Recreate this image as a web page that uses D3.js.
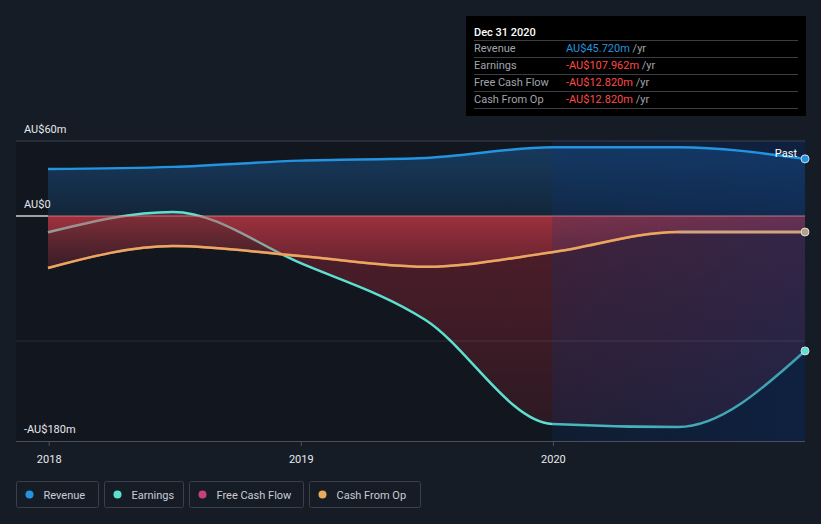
<!DOCTYPE html>
<html><head><meta charset="utf-8">
<script src="https://cdn.jsdelivr.net/npm/d3@7"></script>
<style>
html,body{margin:0;padding:0;background:#161c26;}
svg{display:block;font-family:Roboto,"Noto Sans",sans-serif;}
</style></head>
<body>
<svg id="c" width="821" height="524"></svg>
<script>
const dates = ["2017-12-31","2018-06-30","2018-12-31","2019-06-30","2019-12-31","2020-06-30","2020-12-31"];
const revenue = [37.6, 39.3, 44.3, 46.4, 55.0, 55.0, 45.72];
const earnings = [-13.0, 3.3, -37.5, -83.0, -166.4, -168.8, -107.962];
const freeCashFlow = [-41.6, -24.0, -32.0, -40.6, -29.0, -12.8, -12.82];
const cashFromOp = [-41.6, -24.0, -32.0, -40.6, -29.0, -12.8, -12.82];
const yTicks = [60, 0, -180];
const yTickLabels = ["AU$60m", "AU$0", "-AU$180m"];
const xTickLabels = ["2018", "2019", "2020"];
const legendNames = ["Revenue", "Earnings", "Free Cash Flow", "Cash From Op"];
const tooltipTitle = "Dec 31 2020";
const tooltipValues = ["AU$45.720m", "-AU$107.962m", "-AU$12.820m", "-AU$12.820m"];

const colors = {rev:"#2394df", earn:"#5ce1d1", fcf:"#c6407e", cfo:"#e8a95a"};
const parse = d3.timeParse("%Y-%m-%d");
const D = dates.map(parse);
const svg = d3.select("#c");
const L = 16, R = 805, T = 141, B = 441;
const x = d3.scaleTime().domain([D[0], D[D.length-1]]).range([48, 805]);
const y = d3.scaleLinear().domain([-180, 60]).range([441, 141]);

const defs = svg.append("defs");
function grad(id, y1, y2, stops){
  const g = defs.append("linearGradient").attr("id", id).attr("gradientUnits","userSpaceOnUse")
    .attr("x1",0).attr("x2",0).attr("y1",y1).attr("y2",y2);
  stops.forEach(s => g.append("stop").attr("offset", s[0]).attr("stop-color", s[1]).attr("stop-opacity", s[2]));
}
grad("gRev", y(50), y(0), [[0,"#17385a",1],[1,"#13263a",1]]);
grad("gEarn", y(0), y(-180), [[0,"#a8283a",0.42],[1,"#a8283a",0.16]]);
grad("gFcf", y(0), y(-45), [[0,"#d8404c",0.55],[1,"#d8404c",0.15]]);
const pg = defs.append("linearGradient").attr("id","gPast").attr("x1",0).attr("x2",1).attr("y1",0).attr("y2",0);
pg.append("stop").attr("offset",0).attr("stop-color","#0a3378").attr("stop-opacity",0.22);
pg.append("stop").attr("offset",1).attr("stop-color","#0a3378").attr("stop-opacity",0.38);

// plot background
svg.append("rect").attr("x",L).attr("y",T).attr("width",R-L).attr("height",B-T).attr("fill","#12161e");

const curve = d3.curveMonotoneX;
const idx = d3.range(D.length);
const areaOf = (vals) => d3.area().x(i => x(D[i])).y0(y(0)).y1(i => y(vals[i])).curve(curve);
const lineOf = (vals) => d3.line().x(i => x(D[i])).y(i => y(vals[i])).curve(curve);

// areas
svg.append("path").attr("d", areaOf(revenue)(idx)).attr("fill","url(#gRev)");
svg.append("path").attr("d", areaOf(earnings)(idx)).attr("fill","url(#gEarn)");

// earnings line (under the FCF area)
svg.append("path").attr("d", lineOf(earnings)(idx)).attr("fill","none").attr("stroke",colors.earn).attr("stroke-width",2.5);

svg.append("path").attr("d", areaOf(freeCashFlow)(idx)).attr("fill","url(#gFcf)");

// past overlay
svg.append("rect").attr("x", x(D[4])).attr("y", T).attr("width", R - x(D[4])).attr("height", B-T).attr("fill","url(#gPast)");

// gridlines
svg.append("line").attr("x1",L).attr("x2",R).attr("y1",y(60)).attr("y2",y(60)).attr("stroke","#3a404b").attr("stroke-width",1);
svg.append("line").attr("x1",L).attr("x2",R).attr("y1",y(-100)).attr("y2",y(-100)).attr("stroke","#ffffff").attr("stroke-opacity",0.1).attr("stroke-width",1);
svg.append("line").attr("x1",L).attr("x2",R).attr("y1",B+0.5).attr("y2",B+0.5).attr("stroke","#4a505b").attr("stroke-width",1);
svg.append("line").attr("x1",L).attr("x2",48).attr("y1",y(0)).attr("y2",y(0)).attr("stroke","#ffffff").attr("stroke-width",1.2);
svg.append("line").attr("x1",48).attr("x2",R).attr("y1",y(0)).attr("y2",y(0)).attr("stroke","#f08c90").attr("stroke-opacity",0.75).attr("stroke-width",1.2);

// lines
svg.append("path").attr("d", lineOf(revenue)(idx)).attr("fill","none").attr("stroke",colors.rev).attr("stroke-width",2.5);
svg.append("path").attr("d", lineOf(freeCashFlow)(idx)).attr("fill","none").attr("stroke",colors.fcf).attr("stroke-width",2.5);
svg.append("path").attr("d", lineOf(cashFromOp)(idx)).attr("fill","none").attr("stroke",colors.cfo).attr("stroke-width",2.5);
defs.append("clipPath").attr("id","pastClip").append("rect").attr("x", x(D[5])).attr("y",T).attr("width", R-x(D[5])).attr("height",B-T);
svg.append("path").attr("d", lineOf(cashFromOp)(idx)).attr("fill","none").attr("stroke","#c8a882").attr("stroke-width",2.5)
  .attr("clip-path","url(#pastClip)");

// end markers
const last = D.length-1;
[[revenue, colors.rev],[earnings, colors.earn],[cashFromOp, "#b9a07e"]].forEach(([v,c]) => {
  svg.append("circle").attr("cx", x(D[last])).attr("cy", y(v[last])).attr("r",4).attr("fill",c).attr("stroke","#d8dde6").attr("stroke-width",1);
});
svg.append("text").attr("x",797).attr("y",157).attr("text-anchor","end").attr("fill","#ffffff").attr("font-size",11).text("Past");

// y labels
yTicks.forEach((t,i) => {
  svg.append("text").attr("x",24).attr("y", y(t) - 8).attr("fill","#e6e8ec").attr("font-size",11).text(yTickLabels[i]);
});

// x axis
const xTickDates = xTickLabels.map(s => parse(s + "-01-01"));
const xAxis = d3.axisBottom(x).tickValues(xTickDates).tickFormat((d,i) => xTickLabels[i]).tickSize(5).tickSizeOuter(0);
const gx = svg.append("g").attr("transform",`translate(0,${B})`).call(xAxis);
gx.select(".domain").remove();
gx.selectAll(".tick line").attr("stroke","#4a505b");
gx.selectAll(".tick text").attr("fill","#e6e8ec").attr("font-size",11).attr("font-family","Roboto, sans-serif").attr("dy","1.25em");

// tooltip
const tt = svg.append("g").attr("transform","translate(466,16)");
tt.append("rect").attr("width",340).attr("height",100).attr("fill","#000000");
tt.append("text").attr("x",8).attr("y",20).attr("fill","#ffffff").attr("font-size",11).attr("font-weight",500).text(tooltipTitle);
const ttColors = ["#2394df","#ff4a4a","#ff4a4a","#ff4a4a"];
legendNames.forEach((n,i) => {
  const ry = 24.5 + i*17;
  tt.append("line").attr("x1",8).attr("x2",332).attr("y1",ry).attr("y2",ry).attr("stroke","#3a3d44").attr("stroke-width",1);
  tt.append("text").attr("x",8).attr("y",ry+11.5).attr("fill","#a0a4ab").attr("font-size",11).text(n);
  const t = tt.append("text").attr("x",100).attr("y",ry+11.5).attr("font-size",11);
  t.append("tspan").attr("fill",ttColors[i]).text(tooltipValues[i]);
  t.append("tspan").attr("fill","#a0a4ab").text(" /yr");
});
tt.append("line").attr("x1",8).attr("x2",332).attr("y1",92.5).attr("y2",92.5).attr("stroke","#3a3d44").attr("stroke-width",1);

// legend
const legendColors = [colors.rev, colors.earn, colors.fcf, colors.cfo];
const legendX = [16, 104, 189, 309];
const legendW = [82, 79, 114, 111];
legendNames.forEach((n,i) => {
  const g = svg.append("g").attr("transform",`translate(${legendX[i]+0.5},481.5)`);
  g.append("rect").attr("width",legendW[i]).attr("height",26).attr("rx",2).attr("fill","none").attr("stroke","#3a3f4a");
  g.append("circle").attr("cx",13).attr("cy",13).attr("r",4).attr("fill",legendColors[i]);
  g.append("text").attr("x",27).attr("y",17).attr("fill","#c8ccd2").attr("font-size",11).text(n);
});
</script>
</body></html>
